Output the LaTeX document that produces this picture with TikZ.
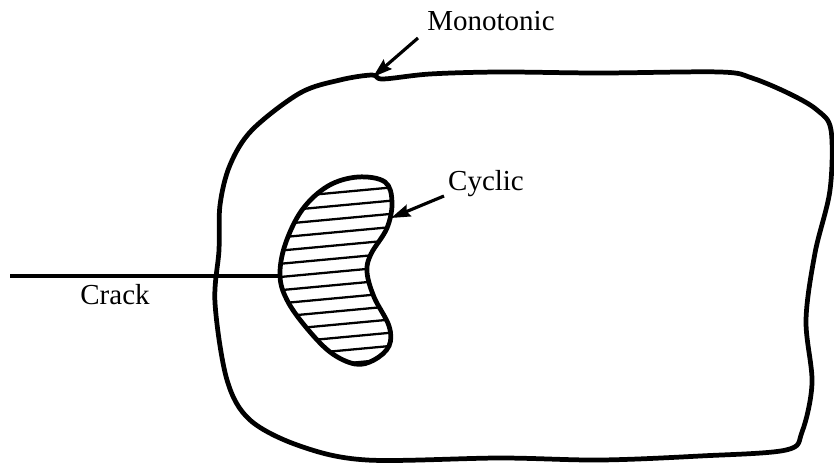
\documentclass[tikz,border=0pt]{standalone}
\usepackage{fontspec}
\setmainfont{Liberation Serif}
\usetikzlibrary{arrows.meta, positioning}

\begin{document}
\begin{tikzpicture}[x=0.02cm, y=-0.02cm,
  outline/.style={line width=2.7pt, line join=round},
  hatch/.style={line width=1.3pt},
  arr/.style={-{Stealth[length=11pt, width=7pt, inset=1.5pt]}, line width=1.8pt},
  lbl/.style={font=\fontsize{16.5}{19}\selectfont, inner sep=0pt}
]
\useasboundingbox (0,0) rectangle (834,463);

% --- Monotonic zone boundary ---
\draw[outline] plot[smooth cycle, tension=0.55] coordinates {
  (300,93) (340,80) (372,75) (383,79) (430,74) (500,72) (600,73) (720,72)
  (752,78) (790,94) (817,110) (831,130) (830,190) (815,253) (806,320)
  (812,383) (802,432) (786,450) (700,456) (600,460) (500,458) (367,460)
  (300,446) (250,420) (227,380) (215,303) (219,250) (220,205) (230,165) (252,130)};

% --- Cyclic zone, hatched ---
\begin{scope}
\clip plot[smooth cycle, tension=0.6] coordinates {
  (358,177) (385,182) (392,202) (387,228) (371,254) (367,272) (374,297)
  (389,326) (389,346) (374,360) (355,364) (330,352) (305,326) (287,300)
  (280,276) (285,245) (302,210) (328,186)};
\foreach \i in {0,...,14}
  \draw[hatch] (265,{186+13.2*\i}) -- ++(140,-13);
\end{scope}
\draw[outline] plot[smooth cycle, tension=0.6] coordinates {
  (358,177) (385,182) (392,202) (387,228) (371,254) (367,272) (374,297)
  (389,326) (389,346) (374,360) (355,364) (330,352) (305,326) (287,300)
  (280,276) (285,245) (302,210) (328,186)};

% --- Crack ---
\coordinate (cracktip) at (280,276);
\coordinate (crackend) at (10,276);
\draw[line width=2pt] (crackend) -- (cracktip);
\node[lbl] (crack) at (115,295) {Crack};

% --- Labels and pointers ---
\node[lbl] (mono) at (491,21) {Monotonic};
\node[lbl] (cyclic) at (486,184) {Cyclic};
\coordinate (monotail) at (418,38);
\coordinate (monohead) at (373,77);
\coordinate (cyctail) at (444,196);
\coordinate (cychead) at (391,218);
\draw[arr] (monotail) -- (monohead);
\draw[arr] (cyctail) -- (cychead);

\end{tikzpicture}
\end{document}
